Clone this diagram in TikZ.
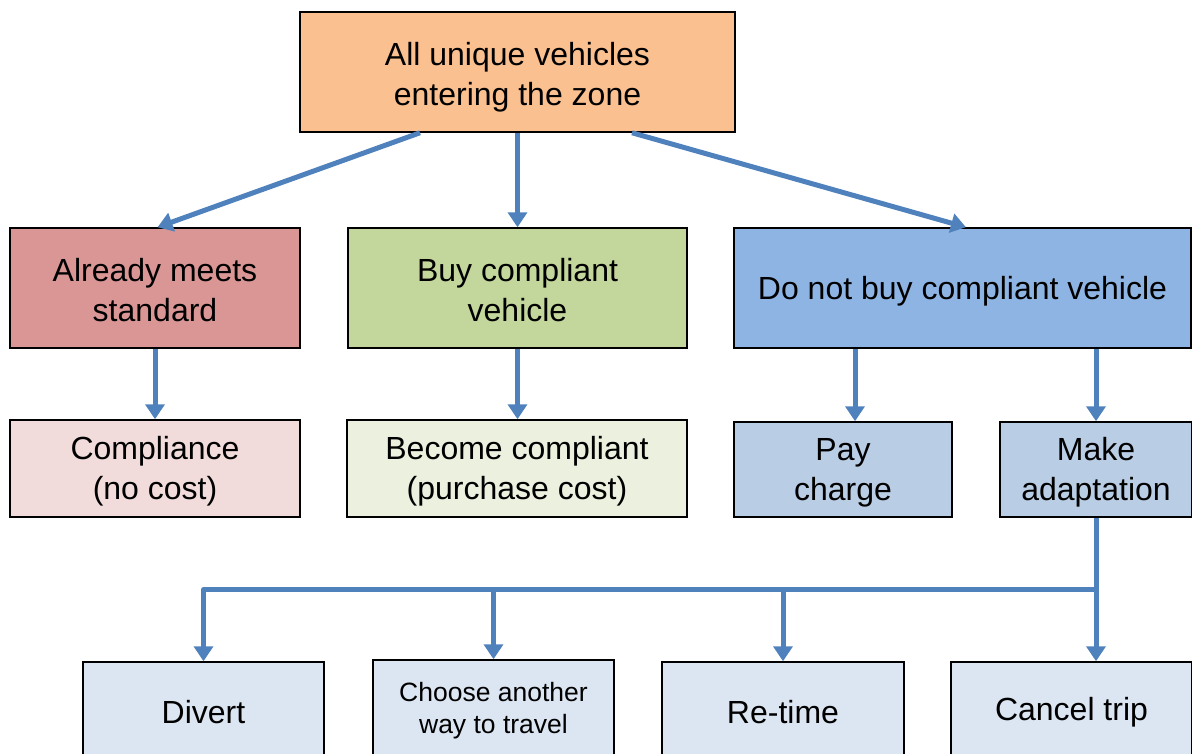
\documentclass[tikz,border=0pt]{standalone}
\usepackage{fontspec}
\setmainfont{Liberation Sans}
\usetikzlibrary{arrows.meta,calc}
\definecolor{cOrange}{HTML}{FAC090}
\definecolor{cRed}{HTML}{D99694}
\definecolor{cGreen}{HTML}{C3D69B}
\definecolor{cBlue}{HTML}{8EB4E3}
\definecolor{cLRed}{HTML}{F2DCDB}
\definecolor{cLGreen}{HTML}{EBF1DE}
\definecolor{cLBlue}{HTML}{B9CDE5}
\definecolor{cXBlue}{HTML}{DCE6F2}
\definecolor{cArrow}{HTML}{4F81BD}
\newcommand\mystrut[1]{\rule{0pt}{#1}}
\tikzset{
  box/.style={draw=black, line width=1.5pt, inner sep=0pt, align=center,
    font=\fontsize{32}{39.5}\selectfont},
  smallbox/.style={box, font=\fontsize{26.5}{32}\selectfont},
  conn/.style={draw=cArrow, line width=5pt, line join=round},
  arr/.style={conn, -{Triangle[width=19pt,length=15pt]}},
}
\begin{document}
\begin{tikzpicture}[x=1pt,y=1pt]
\useasboundingbox (0,0) rectangle (1192,-753);
\clip (0,0) rectangle (1192,-753);
% row 1
\node[box, fill=cOrange, minimum width=435pt, minimum height=120pt] (top) at (517.5,-72) {\mystrut{34pt}All unique vehicles\\entering the zone};
% row 2
\node[box, fill=cRed, minimum width=290pt, minimum height=120pt] (already) at (155,-288) {\mystrut{27pt}Already meets\\standard};
\node[box, fill=cGreen, minimum width=339pt, minimum height=120pt] (buy) at (517.5,-288) {\mystrut{27pt}Buy compliant\\vehicle};
\node[box, fill=cBlue, minimum width=457pt, minimum height=120pt] (donot) at (962.5,-288) {\mystrut{29pt}Do not buy compliant vehicle};
% row 3
\node[box, fill=cLRed, minimum width=290pt, minimum height=97pt] (comp) at (155,-468.5) {\mystrut{29pt}Compliance\\(no cost)};
\node[box, fill=cLGreen, minimum width=340pt, minimum height=97pt] (become) at (517,-468.5) {\mystrut{29pt}Become compliant\\(purchase cost)};
\node[box, fill=cLBlue, minimum width=218pt, minimum height=95pt] (pay) at (843,-469.5) {\mystrut{29pt}Pay\\charge};
\node[box, fill=cLBlue, minimum width=192pt, minimum height=95pt] (make) at (1096,-469.5) {\mystrut{29pt}Make\\adaptation};
% row 4
\node[box, fill=cXBlue, minimum width=241pt, minimum height=100pt] (divert) at (203.5,-712) {Divert};
\node[smallbox, fill=cXBlue, minimum width=241pt, minimum height=102pt] (choose) at (493.5,-711) {Choose another\\way to travel};
\node[box, fill=cXBlue, minimum width=242pt, minimum height=100pt] (retime) at (783,-712) {Re-time};
\node[box, fill=cXBlue, minimum width=241pt, minimum height=100pt] (cancel) at (1071.5,-712) {Cancel trip};
% connectors
\draw[arr] ([xshift=-97.5pt]top.south) -- ([xshift=-2.5pt]already.north -| 160,0);
\draw[arr] (top.south) -- (buy.north);
\draw[arr] ([xshift=114.5pt]top.south) -- ([xshift=3.5pt]donot.north);
\draw[arr] (already.south) -- (comp.north);
\draw[arr] (buy.south) -- (buy.south |- become.north);
\draw[arr] ([xshift=12pt]pay.north |- donot.south) -- ([xshift=12pt]pay.north);
\draw[arr] (make.north |- donot.south) -- (make.north);
\coordinate (split) at ($(make.south)!0.5!(make.south |- cancel.north)$);
\draw[arr] (make.south) -- (make.south |- cancel.north);
\draw[arr] (split) -| (divert.north);
\draw[arr] (split -| choose.north) -- (choose.north);
\draw[arr] (split -| retime.north) -- (retime.north);
\end{tikzpicture}
\end{document}
